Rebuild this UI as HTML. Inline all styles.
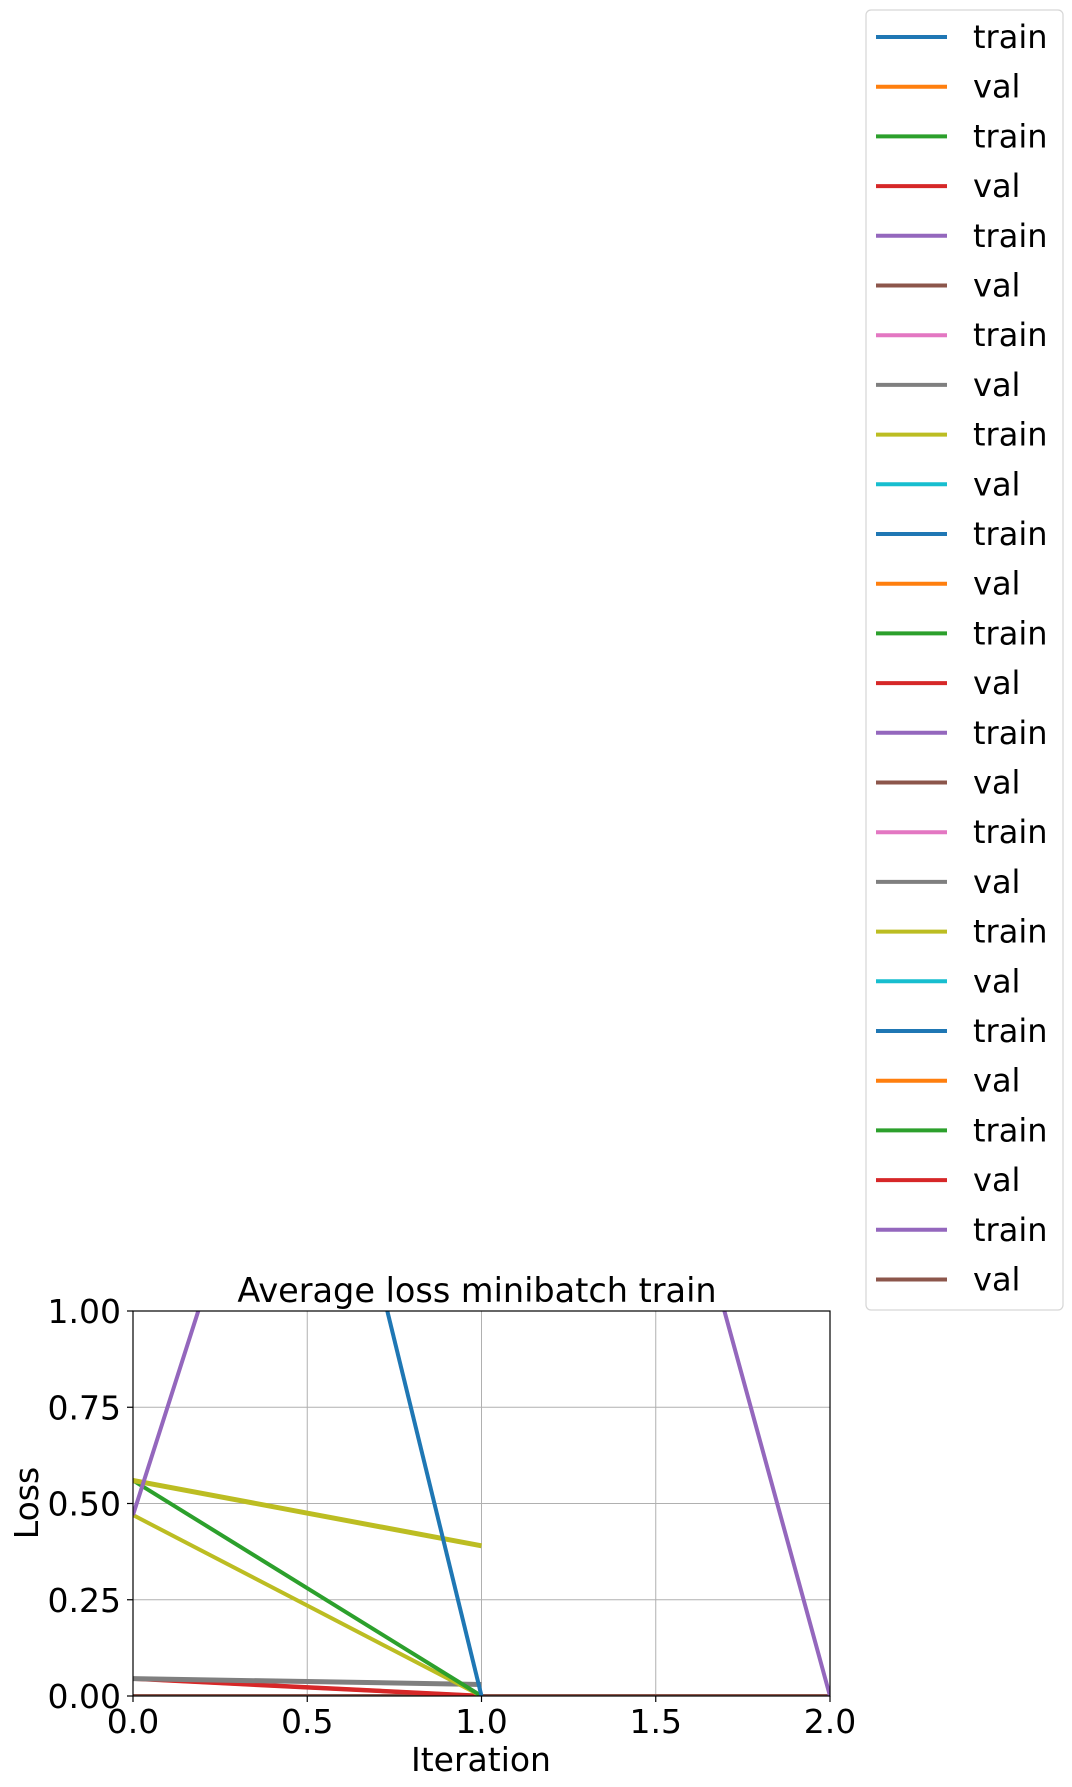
<!DOCTYPE html>
<html><head><meta charset="utf-8"><style>
html,body{margin:0;padding:0;background:#fff;}
svg{display:block;font-family:"DejaVu Sans","Liberation Sans",sans-serif;}
</style></head><body>
<svg id="chart" width="1072" height="1787" viewBox="0 0 1072 1787" xmlns="http://www.w3.org/2000/svg">
<defs><clipPath id="plotclip"><rect x="133" y="1311" width="697" height="385"/></clipPath></defs>
<g id="grid"></g>
<g id="series" clip-path="url(#plotclip)"></g>
<rect x="133" y="1311" width="697" height="385" fill="none" stroke="#000" stroke-width="1.2"/>
<g id="ticks"></g>
<text x="477" y="1302" font-size="33.5" text-anchor="middle">Average loss minibatch train</text>
<text x="481" y="1771" font-size="33" text-anchor="middle">Iteration</text>
<text x="38" y="1503" font-size="33" text-anchor="middle" transform="rotate(-90 38 1503)">Loss</text>
<g id="legend"></g>
</svg>
<script>
const xTicks = [0, 0.5, 1.0, 1.5, 2.0];
const xTickLabels = ["0.0", "0.5", "1.0", "1.5", "2.0"];
const yTicks = [0, 0.25, 0.5, 0.75, 1.0];
const yTickLabels = ["0.00", "0.25", "0.50", "0.75", "1.00"];
const seriesColors = ["#1f77b4","#ff7f0e","#2ca02c","#d62728","#9467bd","#8c564b","#e377c2","#7f7f7f","#bcbd22","#17becf"];
const legendLabels = ["train","val","train","val","train","val","train","val","train","val","train","val","train","val","train","val","train","val","train","val","train","val","train","val","train","val"];
const blueTrain = [3.7, 0];
const orangeVal = [0.045, 0];
const greenTrain = [0.56, 0];
const redVal = [0.045, 0];
const purpleTrain = [0.47, 3.3, 0];
const brownVal = [0, 0, 0];
const grayVal = [0.045, 0.03];
const yellowTrainA = [0.56, 0.39];
const yellowTrainB = [0.47, 0];

const NS = "http://www.w3.org/2000/svg";
const X0 = 133, X1 = 830, Y0 = 1696, Y1 = 1311;
const xMin = 0, xMax = 2, yMin = 0, yMax = 1;
function sx(v){ return X0 + (v - xMin) / (xMax - xMin) * (X1 - X0); }
function sy(v){ return Y0 - (v - yMin) / (yMax - yMin) * (Y0 - Y1); }
function mk(tag, attrs){ const e = document.createElementNS(NS, tag); for (const k in attrs) e.setAttribute(k, attrs[k]); return e; }

const grid = document.getElementById('grid');
const ticks = document.getElementById('ticks');
xTicks.forEach((t, i) => {
  const g = mk('line', {x1: sx(t), x2: sx(t), y1: Y1, y2: Y0, stroke: '#b0b0b0', 'stroke-width': 1});
  
  
  grid.appendChild(g);
  const tk = mk('line', {x1: sx(t), x2: sx(t), y1: Y0, y2: Y0 + 6, stroke: '#000', 'stroke-width': 1.2});
  
  
  ticks.appendChild(tk);
  const tx = mk('text', {x: sx(t), y: Y0 + 37, 'font-size': 33, 'text-anchor': 'middle'});
  
  
  tx.textContent = xTickLabels[i];
  ticks.appendChild(tx);
});
yTicks.forEach((t, i) => {
  const g = mk('line', {x1: X0, x2: X1, y1: sy(t), y2: sy(t), stroke: '#b0b0b0', 'stroke-width': 1});
  
  
  grid.appendChild(g);
  const tk = mk('line', {x1: X0 - 6, x2: X0, y1: sy(t), y2: sy(t), stroke: '#000', 'stroke-width': 1.2});
  
  
  ticks.appendChild(tk);
  const tx = mk('text', {x: X0 - 12, y: sy(t) + 12, 'font-size': 33, 'text-anchor': 'end'});
  
  
  tx.textContent = yTickLabels[i];
  ticks.appendChild(tx);
});

const seriesG = document.getElementById('series');
function drawLine(vals, color, width, name){
  const pts = vals.map((v, i) => sx(i) + ',' + sy(v)).join(' ');
  const p = mk('polyline', {points: pts, fill: 'none', stroke: color, 'stroke-width': width, 'stroke-linejoin': 'round'});
  
  
  seriesG.appendChild(p);
}
drawLine(brownVal, seriesColors[5], 4, 'val-line-brown');
drawLine(orangeVal, seriesColors[1], 4, 'val-line-orange');
drawLine(redVal, seriesColors[3], 4.5, 'val-line-red');
drawLine(grayVal, seriesColors[7], 5, 'val-line-gray');
drawLine(yellowTrainB, seriesColors[8], 4, 'train-line-yellow-b');
drawLine(greenTrain, seriesColors[2], 4, 'train-line-green');
drawLine(yellowTrainA, seriesColors[8], 5, 'train-line-yellow-a');
drawLine(blueTrain, seriesColors[0], 4, 'train-line-blue');
drawLine(purpleTrain, seriesColors[4], 4, 'train-line-purple');

const leg = document.getElementById('legend');
const box = mk('rect', {x: 866, y: 10, width: 197, height: 1300, rx: 5, fill: '#fff', stroke: '#d6d6d6', 'stroke-width': 1.2});


leg.appendChild(box);
legendLabels.forEach((lab, i) => {
  const y = 37 + i * 49.7;
  const l = mk('line', {x1: 876, x2: 947, y1: y, y2: y, stroke: seriesColors[i % 10], 'stroke-width': 4});
  
  
  leg.appendChild(l);
  const t = mk('text', {x: 973, y: y + 11, 'font-size': 32});
  
  
  t.textContent = lab;
  leg.appendChild(t);
});
</script>
</body></html>
